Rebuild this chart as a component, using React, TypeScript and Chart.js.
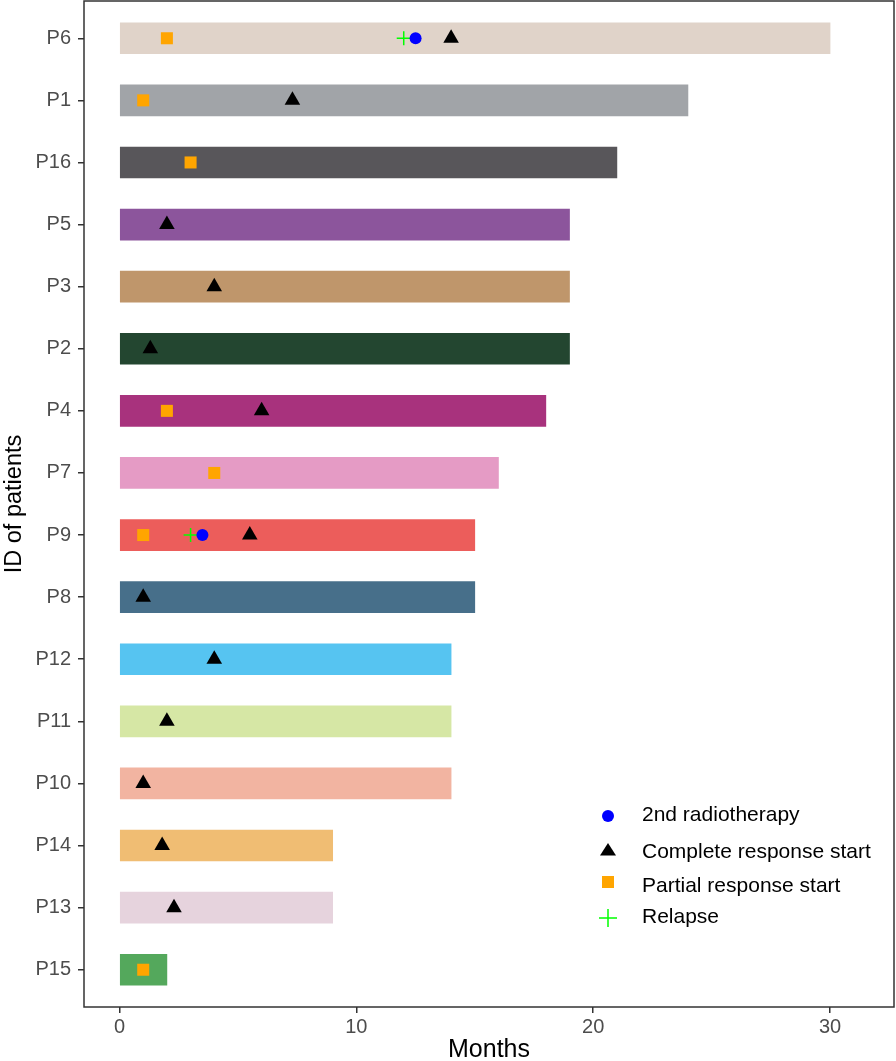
import React, { useEffect, useRef } from 'react';
import { Chart, registerables } from 'chart.js';

Chart.register(...registerables);

const FONT = "'Liberation Sans', Arial, Helvetica, sans-serif";

const patients = ['P6', 'P1', 'P16', 'P5', 'P3', 'P2', 'P4', 'P7', 'P9', 'P8', 'P12', 'P11', 'P10', 'P14', 'P13', 'P15'];
const months = [30, 24, 21, 19, 19, 19, 18, 16, 15, 15, 14, 14, 14, 9, 9, 2];
const barColors = [
  '#e0d3c9', '#a1a4a8', '#58565a', '#8c559c', '#bf966b', '#234630', '#a8327d', '#e59bc5',
  '#ec5d5b', '#476f8a', '#56c4f1', '#d6e7a5', '#f2b4a1', '#f0bd73', '#e6d3dd', '#54a85c',
];

const radioPatients = ['P6', 'P9'];
const radioMonths = [12.5, 3.5];

const completePatients = ['P6', 'P1', 'P5', 'P3', 'P2', 'P4', 'P9', 'P8', 'P12', 'P11', 'P10', 'P14', 'P13'];
const completeMonths = [14, 7.3, 2, 4, 1.3, 6, 5.5, 1, 4, 2, 1, 1.8, 2.3];

const partialPatients = ['P6', 'P1', 'P16', 'P4', 'P7', 'P9', 'P15'];
const partialMonths = [2, 1, 3, 2, 4, 1, 1];

const relapsePatients = ['P6', 'P9'];
const relapseMonths = [12, 3];

const xTicks = [0, 10, 20, 30];

const legendItems = ['2nd radiotherapy', 'Complete response start', 'Partial response start', 'Relapse'];

function toPoints(ids: string[], vals: number[]) {
  return ids.map((id, i) => ({ x: vals[i], y: patients.indexOf(id) }));
}

const frameAndLegend = {
  id: 'frameAndLegend',
  afterDraw(chart: any) {
    const { ctx, chartArea } = chart;
    ctx.save();
    ctx.strokeStyle = '#333333';
    ctx.lineWidth = 1.5;
    ctx.strokeRect(chartArea.left, chartArea.top, chartArea.right - chartArea.left, chartArea.bottom - chartArea.top);

    const mx = chartArea.right - 286;
    const tx = chartArea.right - 252;
    const b = chartArea.bottom;
    const markerY = [b - 191, b - 156, b - 125, b - 89];
    const textY = [b - 192, b - 155, b - 121, b - 90];

    // circle
    ctx.fillStyle = '#0000ff';
    ctx.beginPath();
    ctx.arc(mx, markerY[0], 6, 0, Math.PI * 2);
    ctx.fill();
    // triangle
    ctx.fillStyle = '#000000';
    ctx.beginPath();
    ctx.moveTo(mx, markerY[1] - 8);
    ctx.lineTo(mx + 8, markerY[1] + 4.5);
    ctx.lineTo(mx - 8, markerY[1] + 4.5);
    ctx.closePath();
    ctx.fill();
    // square
    ctx.fillStyle = '#ffa500';
    ctx.fillRect(mx - 6, markerY[2] - 6, 12, 12);
    // plus
    ctx.strokeStyle = '#00ff00';
    ctx.lineWidth = 1.5;
    ctx.beginPath();
    ctx.moveTo(mx - 9, markerY[3]);
    ctx.lineTo(mx + 9, markerY[3]);
    ctx.moveTo(mx, markerY[3] - 9);
    ctx.lineTo(mx, markerY[3] + 9);
    ctx.stroke();

    ctx.fillStyle = '#000000';
    ctx.font = `21px ${FONT}`;
    ctx.textAlign = 'left';
    ctx.textBaseline = 'middle';
    legendItems.forEach((t, i) => ctx.fillText(t, tx, textY[i]));
    ctx.restore();
  },
};

export default function App() {
  const ref = useRef<HTMLCanvasElement>(null);

  useEffect(() => {
    if (!ref.current) return;
    const chart = new Chart(ref.current, {
      type: 'bar',
      data: {
        datasets: [
          {
            type: 'scatter',
            label: 'Relapse',
            data: toPoints(relapsePatients, relapseMonths),
            pointStyle: 'cross',
            pointRadius: 7,
            borderColor: '#00ff00',
            backgroundColor: '#00ff00',
            borderWidth: 1.5,
            order: 1,
          } as any,
          {
            type: 'scatter',
            label: '2nd radiotherapy',
            data: toPoints(radioPatients, radioMonths),
            pointStyle: 'circle',
            pointRadius: 6,
            borderWidth: 0,
            backgroundColor: '#0000ff',
            borderColor: '#0000ff',
            order: 0,
          } as any,
          {
            type: 'scatter',
            label: 'Complete response start',
            data: toPoints(completePatients, completeMonths),
            pointStyle: 'triangle',
            pointRadius: 9,
            borderWidth: 0,
            backgroundColor: '#000000',
            borderColor: '#000000',
            order: 0,
          } as any,
          {
            type: 'scatter',
            label: 'Partial response start',
            data: toPoints(partialPatients, partialMonths),
            pointStyle: 'rect',
            pointRadius: 8.5,
            borderWidth: 0,
            backgroundColor: '#ffa500',
            borderColor: '#ffa500',
            order: 0,
          } as any,
          {
            type: 'bar',
            label: 'Follow-up',
            data: months.map((m, i) => ({ x: m, y: i })),
            backgroundColor: barColors,
            borderWidth: 0,
            barThickness: 31,
            order: 10,
          } as any,
        ],
      },
      options: {
        indexAxis: 'y',
        animation: false,
        responsive: false,
        maintainAspectRatio: false,
        layout: { autoPadding: false, padding: { top: 1, right: 2, left: 0, bottom: 0 } },
        plugins: {
          legend: { display: false },
          tooltip: { enabled: false },
        },
        scales: {
          x: {
            type: 'linear',
            position: 'bottom',
            offset: false,
            min: -1.5,
            max: 32.7,
            afterBuildTicks: (scale: any) => {
              scale.ticks = xTicks.map((v) => ({ value: v }));
            },
            afterFit: (scale: any) => {
              scale.height = 54;
              scale.paddingLeft = 0;
              scale.paddingRight = 0;
            },
            grid: { offset: false, drawOnChartArea: false, drawTicks: true, tickLength: 6, color: '#333333', lineWidth: 1.5 },
            border: { display: false },
            ticks: { color: '#4d4d4d', font: { family: FONT, size: 20 }, padding: 2, maxRotation: 0 },
            title: {
              display: true,
              text: 'Months',
              color: '#000000',
              font: { family: FONT, size: 25, lineHeight: 1 },
              padding: { top: 0, bottom: -2 },
            },
          },
          y: {
            type: 'linear',
            position: 'left',
            offset: false,
            reverse: true,
            min: -0.6,
            max: 15.6,
            afterBuildTicks: (scale: any) => {
              scale.ticks = patients.map((_, i) => ({ value: i }));
            },
            afterFit: (scale: any) => {
              scale.width = 84;
              scale.paddingTop = 0;
              scale.paddingBottom = 0;
            },
            grid: { offset: false, drawOnChartArea: false, drawTicks: true, tickLength: 6, color: '#333333', lineWidth: 1.5 },
            border: { display: false },
            ticks: {
              color: '#4d4d4d',
              font: { family: FONT, size: 20 },
              padding: 7,
              autoSkip: false,
              callback: (v: any) => patients[v as number] ?? '',
            },
            title: {
              display: true,
              text: 'ID of patients',
              color: '#000000',
              font: { family: FONT, size: 23.5, lineHeight: 1.2 },
              padding: 0,
            },
          },
        },
      },
      plugins: [frameAndLegend],
    });
    return () => chart.destroy();
  }, []);

  return (
    <div style={{ position: 'absolute', left: 0, top: 0, width: 896, height: 1061, background: '#ffffff' }}>
      <canvas ref={ref} width={896} height={1061} style={{ width: 896, height: 1061, display: 'block' }} />
    </div>
  );
}
